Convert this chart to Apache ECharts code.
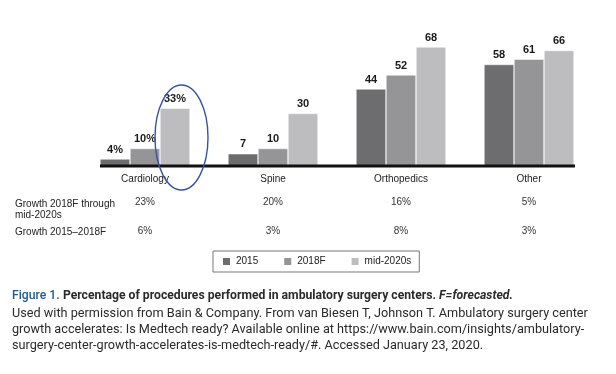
<!DOCTYPE html>
<html>
<head>
<meta charset="utf-8">
<script src="https://cdn.jsdelivr.net/npm/echarts@6/dist/echarts.min.js"></script>
<style>html,body{margin:0;padding:0;background:#fff}#c{width:616px;height:374px}</style>
</head>
<body>
<div id="c"></div>
<script>
var categories = ['Cardiology', 'Spine', 'Orthopedics', 'Other'];
var seriesNames = ['2015', '2018F', 'mid-2020s'];
var values2015 = [4, 7, 44, 58];
var values2018F = [10, 10, 52, 61];
var valuesMid2020s = [33, 30, 68, 66];
var growthLate = ['23%', '20%', '16%', '5%'];
var growthEarly = ['6%', '3%', '8%', '3%'];
var rowLabels = ['Growth 2018F through\nmid-2020s', 'Growth 2015\u20132018F'];
var percentCategory = 'Cardiology';

var colors = ['#6d6d70', '#959598', '#bdbdc0'];
var chart = echarts.init(document.getElementById('c'), null, {renderer: 'canvas'});
var font = '"Liberation Sans", Arial, sans-serif';
var capFont = 'Roboto, "Noto Sans", sans-serif';

function labelFmt(p) {
  return p.name === percentCategory ? p.value + '%' : String(p.value);
}
function mkSeries(name, data, i) {
  return {
    name: name, type: 'bar', data: data, barWidth: 30, barGap: '0%',
    itemStyle: {color: colors[i], borderColor: '#ffffff', borderWidth: 0.5},
    label: {show: true, position: 'top', distance: 4, formatter: labelFmt,
      fontFamily: font, fontSize: 11, fontWeight: 'bold', color: '#1a1a1a'}
  };
}
var hiddenAxis = {axisLine: {show: false}, axisTick: {show: false}, splitLine: {show: false}};
var option = {
  animation: false,
  grid: {left: 81, right: 23, top: 26, bottom: 208},
  legend: {
    data: seriesNames, left: 213, top: 251, orient: 'horizontal',
    itemWidth: 9, itemHeight: 9, itemGap: 24, icon: 'rect',
    padding: [5, 8, 5, 8], borderColor: '#777', borderWidth: 1,
    textStyle: {fontFamily: font, fontSize: 10, color: '#222'}
  },
  xAxis: [
    Object.assign({type: 'category', data: categories, gridIndex: 0,
      axisLabel: {fontFamily: font, fontSize: 10, color: '#222', margin: 8}}, hiddenAxis),
    Object.assign({type: 'category', data: growthLate, position: 'bottom', offset: 23,
      axisLabel: {fontFamily: font, fontSize: 10, color: '#333', margin: 8}}, hiddenAxis),
    Object.assign({type: 'category', data: growthEarly, position: 'bottom', offset: 52,
      axisLabel: {fontFamily: font, fontSize: 10, color: '#333', margin: 8}}, hiddenAxis)
  ],
  yAxis: {type: 'value', min: 0, max: 80, show: false},
  series: [
    mkSeries(seriesNames[0], values2015, 0),
    mkSeries(seriesNames[1], values2018F, 1),
    mkSeries(seriesNames[2], valuesMid2020s, 2)
  ]
};
chart.setOption(option);

// baseline from first bar's left edge to last bar's right edge, via the library's scales
var p0 = chart.convertToPixel({xAxisIndex: 0, yAxisIndex: 0}, [0, 0]);
var p3 = chart.convertToPixel({xAxisIndex: 0, yAxisIndex: 0}, [categories.length - 1, 0]);
var yBase = p0[1];
chart.setOption({
  graphic: [
    {type: 'line', shape: {x1: p0[0] - 45, y1: yBase, x2: p3[0] + 46, y2: yBase},
      style: {stroke: '#111', lineWidth: 3}, z: 10},
    {type: 'ellipse', shape: {cx: 181.5, cy: 137.5, rx: 26.5, ry: 52.5},
      style: {fill: null, stroke: '#3a53a0', lineWidth: 1.4}, z: 11},
    {type: 'text', left: 15, top: 198,
      style: {text: rowLabels[0], font: '10px ' + font, fill: '#222', lineHeight: 11.5}},
    {type: 'text', left: 15, top: 227,
      style: {text: rowLabels[1], font: '10px ' + font, fill: '#222'}},
    {type: 'text', left: 12, top: 290,
      style: {text: '{b|Figure 1.} {t|Percentage of procedures performed in ambulatory surgery centers. }{i|F=forecasted.}',
        rich: {
          b: {fontFamily: capFont, fontSize: 12.2, fontWeight: 500, fill: '#1f5a8e'},
          t: {fontFamily: capFont, fontSize: 12.2, fontWeight: 'bold', fill: '#2a2a2a'},
          i: {fontFamily: capFont, fontSize: 12.2, fontWeight: 'bold', fontStyle: 'italic', fill: '#2a2a2a'}
        }}},
    {type: 'text', left: 12, top: 306,
      style: {text: 'Used with permission from Bain & Company. From van Biesen T, Johnson T. Ambulatory surgery center\ngrowth accelerates: Is Medtech ready? Available online at https://www.bain.com/insights/ambulatory-\nsurgery-center-growth-accelerates-is-medtech-ready/#. Accessed January 23, 2020.',
        font: '12.7px ' + capFont, fill: '#2a2a2a', lineHeight: 16}}
  ]
});
</script>
</body>
</html>
